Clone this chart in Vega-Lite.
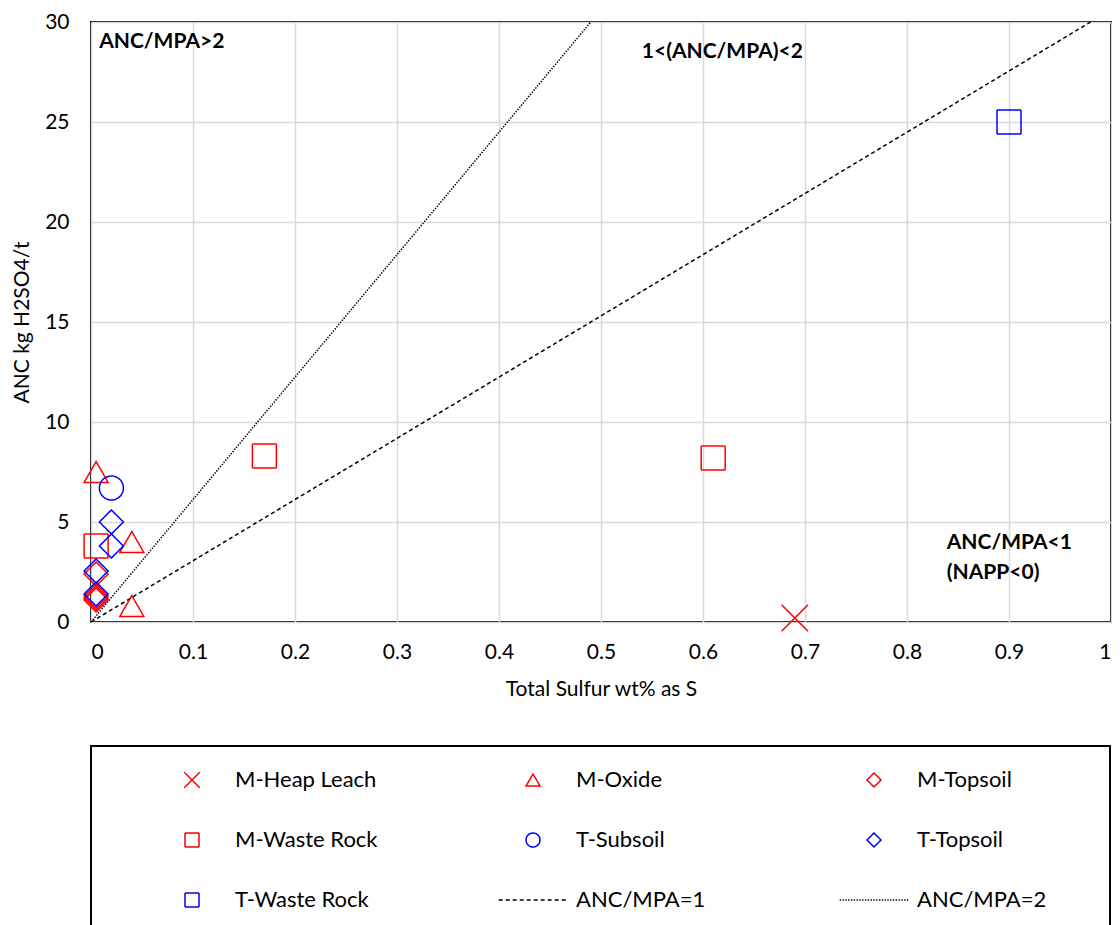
{
  "$schema": "https://vega.github.io/schema/vega-lite/v6.json",
  "padding": {"left": 10, "top": 10, "right": 0, "bottom": 0},
  "bounds": "flush",
  "spacing": 124,
  "config": {
    "font": "Lato",
    "axis": {
      "grid": true,
      "gridColor": "#d9d9d9",
      "gridWidth": 1.5,
      "domain": false,
      "ticks": false,
      "labelFont": "Lato",
      "labelFontSize": 21,
      "labelColor": "black",
      "titleFont": "Lato",
      "titleFontSize": 21,
      "titleFontWeight": "normal",
      "titleColor": "black"
    }
  },
  "vconcat": [
    {
      "width": 1020,
      "height": 600,
      "view": {"stroke": "black", "strokeWidth": 2},
      "layer": [
        {
          "data": {
            "values": [
              {"series": "ANC/MPA=1", "S": 0, "ANC": 0},
              {"series": "ANC/MPA=1", "S": 0.98, "ANC": 30},
              {"series": "ANC/MPA=2", "S": 0, "ANC": 0},
              {"series": "ANC/MPA=2", "S": 0.49, "ANC": 30}
            ]
          },
          "mark": {"type": "line", "strokeWidth": 1.5, "clip": true},
          "encoding": {
            "x": {"field": "S", "type": "quantitative"},
            "y": {"field": "ANC", "type": "quantitative"},
            "color": {"field": "series", "type": "nominal"},
            "strokeDash": {"field": "series", "type": "nominal"}
          }
        },
        {
          "data": {
            "values": [
              {"series": "M-Heap Leach", "S": 0.69, "ANC": 0.2},
              {"series": "M-Oxide", "S": 0.005, "ANC": 7.5},
              {"series": "M-Oxide", "S": 0.04, "ANC": 4.0},
              {"series": "M-Oxide", "S": 0.04, "ANC": 0.8},
              {"series": "M-Topsoil", "S": 0.005, "ANC": 2.4},
              {"series": "M-Topsoil", "S": 0.005, "ANC": 1.3},
              {"series": "M-Topsoil", "S": 0.005, "ANC": 1.2},
              {"series": "M-Topsoil", "S": 0.005, "ANC": 1.1},
              {"series": "M-Waste Rock", "S": 0.005, "ANC": 3.8},
              {"series": "M-Waste Rock", "S": 0.17, "ANC": 8.3},
              {"series": "M-Waste Rock", "S": 0.61, "ANC": 8.2},
              {"series": "T-Subsoil", "S": 0.02, "ANC": 6.7},
              {"series": "T-Topsoil", "S": 0.02, "ANC": 5.0},
              {"series": "T-Topsoil", "S": 0.02, "ANC": 3.8},
              {"series": "T-Topsoil", "S": 0.005, "ANC": 2.55},
              {"series": "T-Topsoil", "S": 0.005, "ANC": 1.4},
              {"series": "T-Waste Rock", "S": 0.9, "ANC": 25}
            ]
          },
          "mark": {"type": "point", "filled": false, "size": 576, "strokeWidth": 1.5, "opacity": 1},
          "encoding": {
            "x": {
              "field": "S",
              "type": "quantitative",
              "title": "Total Sulfur wt% as S",
              "scale": {"domain": [0, 1], "nice": false},
              "axis": {"values": [0, 0.1, 0.2, 0.3, 0.4, 0.5, 0.6, 0.7, 0.8, 0.9, 1], "format": "~g", "labelPadding": 19, "titlePadding": 16}
            },
            "y": {
              "field": "ANC",
              "type": "quantitative",
              "title": "ANC kg H2SO4/t",
              "scale": {"domain": [0, 30], "nice": false},
              "axis": {"values": [0, 5, 10, 15, 20, 25, 30], "labelPadding": 22, "titlePadding": 12}
            },
            "shape": {
              "field": "series",
              "type": "nominal",
              "scale": {
                "domain": ["M-Heap Leach", "M-Oxide", "M-Topsoil", "M-Waste Rock", "T-Subsoil", "T-Topsoil", "T-Waste Rock", "ANC/MPA=1", "ANC/MPA=2"],
                "range": ["M-1.1,-1.1L1.1,1.1M-1.1,1.1L1.1,-1.1", "triangle-up", "diamond", "square", "circle", "diamond", "square", "M-4.9,0H4.9", "M-4.9,0H4.9"]
              }
            },
            "color": {
              "field": "series",
              "type": "nominal",
              "scale": {
                "domain": ["M-Heap Leach", "M-Oxide", "M-Topsoil", "M-Waste Rock", "T-Subsoil", "T-Topsoil", "T-Waste Rock", "ANC/MPA=1", "ANC/MPA=2"],
                "range": ["#ff0000", "#ff0000", "#ff0000", "#ff0000", "#0000ff", "#0000ff", "#0000ff", "#000000", "#000000"]
              },
              "legend": {
                "title": null,
                "orient": "none",
                "direction": "horizontal",
                "legendX": 90,
                "legendY": 747,
                "columns": 3,
                "gridAlign": "all",
                "columnPadding": 117,
                "rowPadding": 38,
                "padding": 0,
                "symbolSize": 196,
                "symbolStrokeWidth": 1.5,
                "symbolOpacity": 1,
                "labelOffset": 32,
                "labelFont": "Lato",
                "labelFontSize": 22,
                "labelColor": "black"
              }
            },
            "strokeDash": {
              "field": "series",
              "type": "nominal",
              "scale": {
                "domain": ["M-Heap Leach", "M-Oxide", "M-Topsoil", "M-Waste Rock", "T-Subsoil", "T-Topsoil", "T-Waste Rock", "ANC/MPA=1", "ANC/MPA=2"],
                "range": [[1, 0], [1, 0], [1, 0], [1, 0], [1, 0], [1, 0], [1, 0], [4, 3], [1.4, 1.4]]
              }
            }
          }
        },
        {
          "data": {
            "values": [
              {"S": 0.008, "ANC": 29.0, "note": "ANC/MPA>2"},
              {"S": 0.54, "ANC": 28.5, "note": "1<(ANC/MPA)<2"},
              {"S": 0.839, "ANC": 3.95, "note": "ANC/MPA<1"},
              {"S": 0.839, "ANC": 2.45, "note": "(NAPP<0)"}
            ]
          },
          "mark": {"type": "text", "font": "Lato", "fontSize": 21, "fontWeight": "bold", "align": "left", "baseline": "middle", "color": "black"},
          "encoding": {
            "x": {"field": "S", "type": "quantitative"},
            "y": {"field": "ANC", "type": "quantitative"},
            "text": {"field": "note"}
          }
        }
      ]
    },
    {
      "width": 1019,
      "height": 200,
      "view": {"stroke": "black", "strokeWidth": 2},
      "data": {"values": []},
      "mark": "point"
    }
  ]
}
